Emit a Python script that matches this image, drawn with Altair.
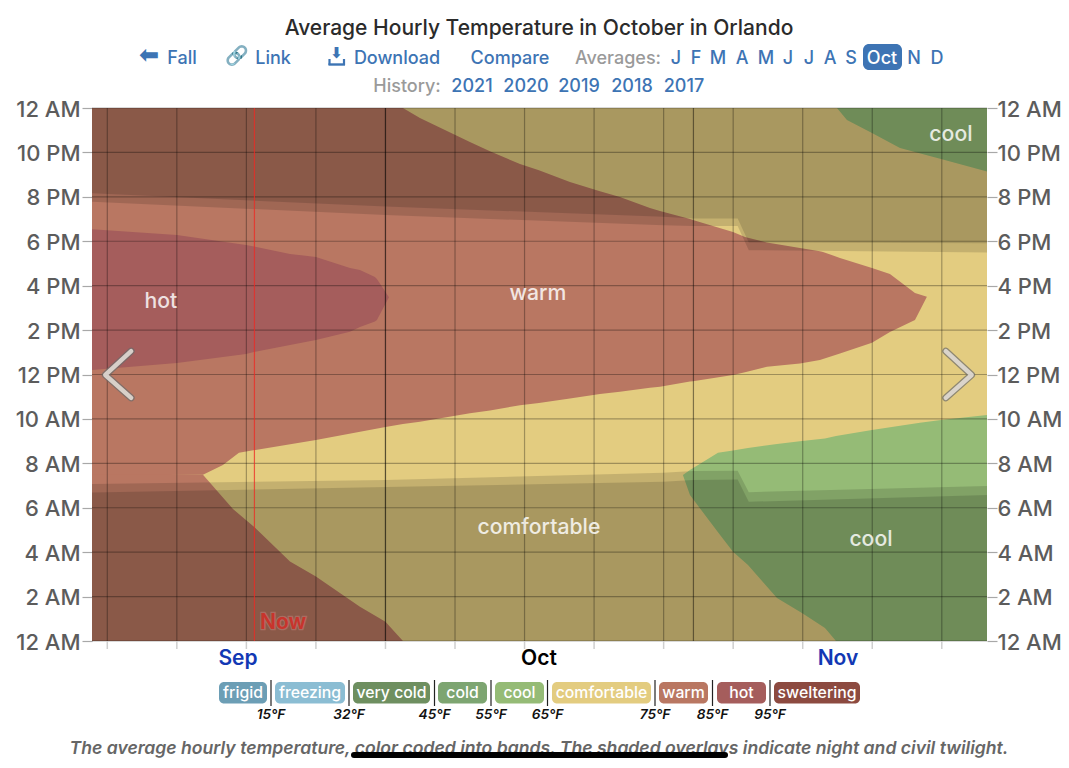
import altair as alt
import pandas as pd

FONT = "Inter"
DOM_X = [-29.54, 60.55]

# --- colours
WARM = "#B97762"; COMF = "#E3CC80"; COOL = "#95BB76"; HOT = "#A55D5C"

# --- bands: day offset from Oct 1, lower hour, upper hour
warm_days = [-29.54,-18.37,-16.36,-14.75,-7,0,1.76,3.47,8.5,10.52,13.54,15.45,18.57,21.59,23.6,26.62,27.63,30.65,30.95,34.98,36.19,38.4,41.72,43.73,44.04,45.75,48.97,50.78,53.3,54.5]
warm_lo = [7.49,7.49,7.93,8.48,9.05,9.64,9.77,9.87,10.25,10.38,10.62,10.72,10.92,11.12,11.22,11.4,11.45,11.68,11.7,11.98,12.1,12.35,12.5,12.65,12.7,12.95,13.43,13.91,14.45,15.5]
warm_hi = [24,24,24,24,24,24,24,23.55,22.47,22.05,21.48,21.2,20.67,20.25,19.99,19.5,19.36,19.0,18.96,18.42,18.19,17.94,17.7,17.55,17.52,17.25,16.8,16.53,15.67,15.5]

wedge_days = [-29.54,-18.37,-15.35,-13.24,-9.61,-7,-2.57,0,1.76]
wedge_hi = [7.6,7.49,5.94,5.15,3.58,2.9,1.54,0.87,0]

hot_days = [-29.54,-20.99,-14.04,-13.24,-9.61,-7,-3.57,-2.57,-1.06,-0.86,0.35]
hot_lo = [12.2,12.52,12.92,13.01,13.33,13.55,13.93,14.14,14.39,14.45,15.48]
hot_hi = [18.54,18.28,17.83,17.76,17.43,17.29,16.8,16.71,16.39,16.3,15.48]

cool_days = [29.94,30.65,33.47,34.98,36.49,39.41,41.92,44.24,45.35,48.97,53.8,55.92,60.55]
cool_lo = [7.47,6.57,4.9,4.02,3.42,1.94,1.26,0.59,0,0,0,0,0]
cool_hi = [7.47,7.7,8.48,8.58,8.69,8.87,9.01,9.12,9.23,9.5,9.83,9.95,10.18]

cool2_days = [45.45,46.45,48.97,51.79,55.92,60.55]
cool2_lo = [24,23.46,22.87,22.2,21.7,21.14]

over_days = [-29.54,0,27.93,30.95,35.45,36.57,60.55]
dawn_twilight = [7.07,7.25,7.58,7.65,7.67,6.70,6.98]
dawn_night = [6.69,6.93,7.17,7.25,7.27,6.27,6.57]
dusk_night = [20.16,19.56,19.1,19.03,19.03,17.94,17.91]
dusk_twilight = [19.78,19.18,18.72,18.69,18.69,17.6,17.49]

week_days = [-28,-21,-14,-7,0,7,14,21,28,35,42,49,56]
month_days = [0,31]
hour_ticks = list(range(0,25,2))
now_day = -13.19

Xn = alt.X("d:Q", scale=alt.Scale(domain=DOM_X, nice=False, zero=False), axis=None)
Yn = alt.Y("lo:Q", scale=alt.Scale(domain=[0,24], nice=False, zero=False), axis=None)

def band(days, lo, hi, color, opacity=1.0):
    n = len(days)
    lo = lo if isinstance(lo, list) else [lo]*n
    hi = hi if isinstance(hi, list) else [hi]*n
    df = pd.DataFrame({"d": days, "lo": lo, "hi": hi})
    return alt.Chart(df).mark_area(color=color, opacity=opacity, interpolate="linear").encode(
        x=Xn, y=Yn, y2="hi:Q")

ends = [-29.54, 60.55]
NIGHT = 0.135
layers = [
    band(ends, 0, 24, COMF),
    band(wedge_days, 0, wedge_hi, WARM),
    band(warm_days, warm_lo, warm_hi, WARM),
    band(hot_days, hot_lo, hot_hi, HOT),
    band(cool_days, cool_lo, cool_hi, COOL),
    band(cool2_days, cool2_lo, 24, COOL),
    band(over_days, 0, dawn_twilight, "#000", NIGHT),
    band(over_days, 0, dawn_night, "#000", NIGHT),
    band(over_days, dusk_night, 24, "#000", NIGHT),
    band(over_days, dusk_twilight, 24, "#000", NIGHT),
]

# --- grid
def y_axis(orient, pad):
    return alt.Axis(orient=orient, values=hour_ticks, tickSize=10, tickColor="#a8a8a8", tickWidth=1.2,
                    domain=False, grid=False, title=None, labelFontSize=22, labelFont=FONT,
                    labelFontWeight=500, labelColor="#5c5c5c", labelPadding=pad, labelOffset=1,
                    labelExpr="(datum.value==0||datum.value==24)?'12 AM':datum.value==12?'12 PM':datum.value<12?datum.value+' AM':(datum.value-12)+' PM'")

Yscale = alt.Scale(domain=[0,24], nice=False, zero=False)
hours_df = pd.DataFrame({"h": hour_ticks})
hgrid_l = alt.Chart(hours_df).mark_rule(color="#000", opacity=0.3, strokeWidth=1.2).encode(
    y=alt.Y("h:Q", scale=Yscale, axis=y_axis("left", 2)))
hgrid_r = alt.Chart(hours_df).mark_rule(color="#000", opacity=0).encode(
    y=alt.Y("h:Q", scale=Yscale, axis=y_axis("right", 0)))
vgrid = alt.Chart(pd.DataFrame({"d": week_days})).mark_rule(color="#000", opacity=0.3, strokeWidth=1.2).encode(x=Xn)
vticks = alt.Chart(pd.DataFrame({"d": week_days})).mark_rule(color="#cfcfcf", strokeWidth=1.5).encode(
    x=Xn, y=alt.value(533), y2=alt.value(541))
mgrid = alt.Chart(pd.DataFrame({"d": month_days})).mark_rule(color="#000", opacity=0.45, strokeWidth=1.2).encode(x=Xn)
now = alt.Chart(pd.DataFrame({"d": [now_day]})).mark_rule(color="#EE2A24", opacity=0.75, strokeWidth=1.2).encode(x=Xn)
layers += [hgrid_l, hgrid_r, vgrid, vticks, mgrid, now]

# --- band labels
Ys = alt.Y("h:Q", scale=Yscale, axis=None)
def band_label(t, d, h):
    return alt.Chart(pd.DataFrame({"d":[d],"h":[h],"t":[t]})).mark_text(
        font=FONT, fontSize=21.2, fontWeight=500, color="#fff", opacity=0.82).encode(x=Xn, y=Ys, text="t:N")
layers += [band_label("hot",-22.6,15.28), band_label("warm",15.35,15.64),
           band_label("comfortable",15.45,5.1), band_label("cool",48.87,4.56),
           band_label("cool",56.92,22.8)]
now_df = pd.DataFrame({"d":[-10.3],"h":[0.8],"t":["Now"]})
layers += [alt.Chart(now_df).mark_text(font=FONT, fontSize=21, fontWeight=600, color="#C8342C",
                stroke="#B0746A", strokeWidth=2.5, strokeOpacity=0.8).encode(x=Xn, y=Ys, text="t:N"),
           alt.Chart(now_df).mark_text(font=FONT, fontSize=21, fontWeight=600, color="#C8342C").encode(x=Xn, y=Ys, text="t:N")]

# --- chevrons
def chevron(days, hours):
    df = pd.DataFrame({"d":days,"h":hours,"o":[0,1,2]})
    return [alt.Chart(df).mark_line(color="#6b6b6b", opacity=0.7, strokeWidth=7, strokeCap="round", strokeJoin="round").encode(x=Xn,y=Ys,order="o:Q"),
            alt.Chart(df).mark_line(color="#e8e2da", opacity=0.85, strokeWidth=4.5, strokeCap="round", strokeJoin="round").encode(x=Xn,y=Ys,order="o:Q")]
layers += chevron([-25.6,-28.2,-25.6],[13.05,11.98,10.95])
layers += chevron([56.4,59.0,56.4],[13.05,11.98,10.95])

# --- page furniture (screen positions)
OX, OY = 92, 108
blank = alt.Data(values=[{}])
def txt(t, x, y, size=18, weight=500, color="#3D74B4", align="center", style="normal", font=FONT):
    return alt.Chart(blank).mark_text(font=font, fontSize=size, fontWeight=weight, color=color, align=align,
                baseline="middle", fontStyle=style).encode(x=alt.value(x-OX), y=alt.value(y+1.5-OY), text=alt.value(t))
def box(x0, x1, y0, y1, color, radius=5):
    return alt.Chart(blank).mark_rect(color=color, cornerRadius=radius).encode(
        x=alt.value(x0-OX), x2=alt.value(x1-OX), y=alt.value(y0-OY), y2=alt.value(y1-OY))
def vline(x, y0, y1, color="#222", w=1.2):
    return alt.Chart(blank).mark_rule(color=color, strokeWidth=w).encode(
        x=alt.value(x-OX), y=alt.value(y0-OY), y2=alt.value(y1-OY))
def hline(x0, x1, y, color="#3D74B4", w=2.4):
    return alt.Chart(blank).mark_rule(color=color, strokeWidth=w).encode(
        x=alt.value(x0-OX), x2=alt.value(x1-OX), y=alt.value(y-OY))

layers.append(txt("Average Hourly Temperature in October in Orlando", 539, 27, size=21, weight=500, color="#2b2b2b"))

nav = [("Fall",182),("Link",273),("Download",397),("Compare",510)]
for t,x in nav:
    layers.append(txt(t,x,57))
layers.append(txt("⬅",149,54.5,size=24,weight=700,font="DejaVu Sans"))
layers.append(txt("🔗",237,54.5,size=19,weight=700,font="DejaVu Sans"))
layers.append(txt("⬇",336.5,51,size=15,weight=700,font="DejaVu Sans"))
layers += [hline(328.5,345,64.5), vline(329.5,59,65,"#3D74B4",2.2), vline(344,59,65,"#3D74B4",2.2)]
layers.append(txt("Averages:",618,57,color="#9a9a9a"))
layers.append(box(863,902,44,70,"#3D74B4",6))
months = [("J",676),("F",696),("M",718),("A",742),("M",766),("J",788),("J",809),("A",830),("S",851),("N",914),("D",937)]
for t,x in months:
    layers.append(txt(t,x,57))
layers.append(txt("Oct",882,57,color="#fff"))
layers.append(txt("History:",407,85,color="#9a9a9a"))
years = [("2021",472),("2020",526),("2019",579),("2018",632),("2017",684)]
for t,x in years:
    layers.append(txt(t,x,85))

layers.append(txt("Sep",238,657.5,size=21,weight=600,color="#1238B4"))
layers.append(txt("Oct",539,657.5,size=21,weight=600,color="#000"))
layers.append(txt("Nov",838,657.5,size=21,weight=600,color="#1238B4"))

# --- legend
legend_names = ["frigid","freezing","very cold","cold","cool","comfortable","warm","hot","sweltering"]
legend_colors = ["#6C9EB5","#8BBDD3","#6E8F60","#7DA571",COOL,COMF,WARM,HOT,"#8C4A40"]
legend_edges = [(219,267),(275,345),(353,430),(438,487),(495,544),(552,651),(659,708),(717,766),(774,860)]
for n,c,(a,b) in zip(legend_names,legend_colors,legend_edges):
    layers.append(box(a,b,682,703.5,c))
    layers.append(txt(n,(a+b)/2,691,size=15.8,weight=500,color="#fff"))
thresh = ["15°F","32°F","45°F","55°F","65°F","75°F","85°F","95°F"]
thresh_x = [271,349,434.5,491,547.5,655,712.5,770]
for t,x in zip(thresh,thresh_x):
    layers.append(vline(x,680,706))
    layers.append(txt(t,x,713.5,size=13.7,weight=600,color="#111",style="italic"))

layers.append(txt("The average hourly temperature, color coded into bands. The shaded overlays indicate night and civil twilight.",
                  539,747.5,size=17.6,weight=600,color="#666",style="italic"))
layers.append(alt.Chart(blank).mark_rule(color="#000", strokeWidth=6, strokeCap="round").encode(
    x=alt.value(354-OX), x2=alt.value(725-OX), y=alt.value(755-OY)))

chart = alt.layer(*layers).resolve_axis(y="independent").properties(
    width=895, height=533,
    padding={"left":84,"top":100,"right":74,"bottom":119},
    autosize=alt.AutoSizeParams(type="none"),
).configure_view(stroke=None)

chart.save("out.html", embed_options={"renderer": "svg", "actions": False})
